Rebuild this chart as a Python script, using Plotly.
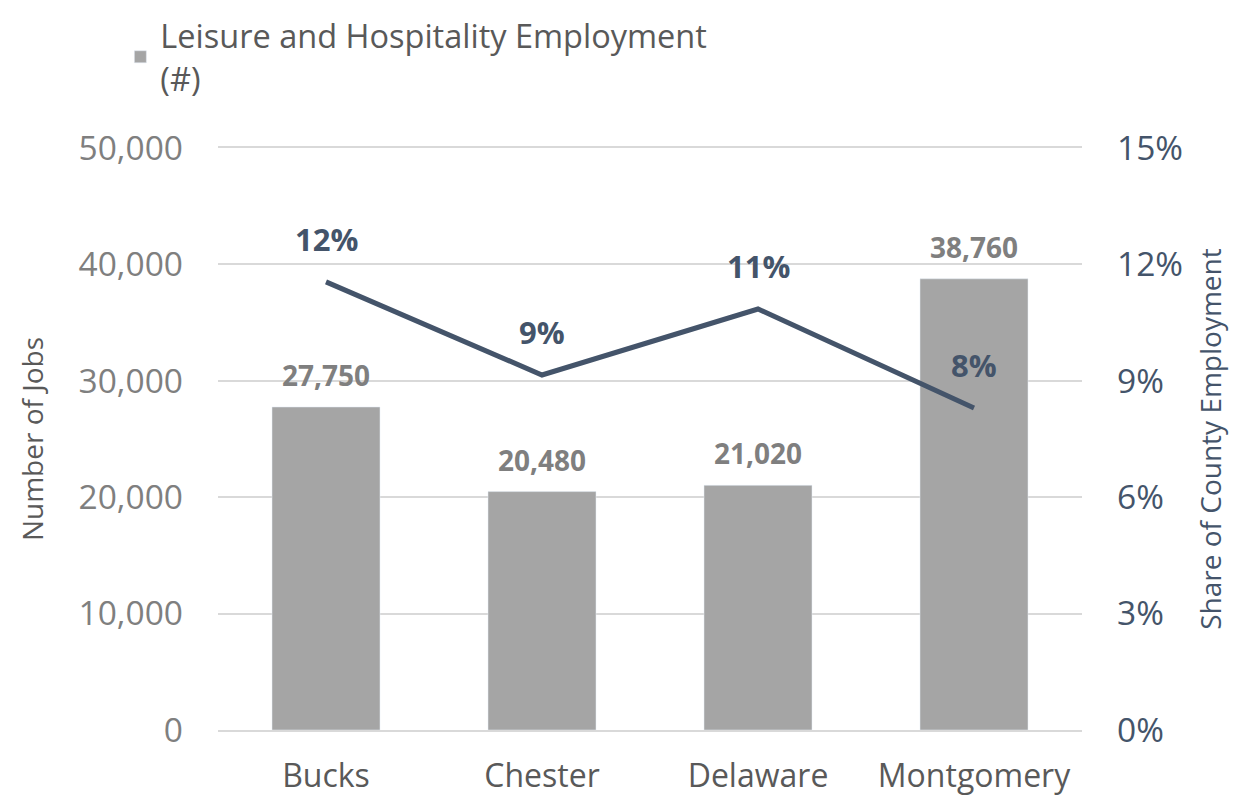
import plotly.graph_objects as go

counties = ["Bucks", "Chester", "Delaware", "Montgomery"]
jobs = [27750, 20480, 21020, 38760]
share = [11.55, 9.15, 10.85, 8.3]  # percent of county employment
share_labels = ["12%", "9%", "11%", "8%"]
left_ticks = [0, 10000, 20000, 30000, 40000, 50000]
right_ticks = [0, 3, 6, 9, 12, 15]

BAR = "#A5A5A5"
LINE = "#44546A"
GRID = "#D9D9D9"
FONT = "Open Sans"

fig = go.Figure()
fig.add_trace(go.Bar(
    x=counties, y=jobs, name="Leisure and Hospitality Employment<br>(#)",
    marker_color=BAR, width=0.5, showlegend=True,
))
fig.add_trace(go.Scatter(
    x=counties, y=share, yaxis="y2", mode="lines", showlegend=False,
    line=dict(color=LINE, width=5),
))

annotations = []
for c, v in zip(counties, jobs):
    annotations.append(dict(x=c, y=v, xref="x", yref="y", text=f"<b>{v:,}</b>",
                            showarrow=False, yanchor="bottom", yshift=11,
                            font=dict(family=FONT, size=28, color="#7F7F7F")))
for c, v, t in zip(counties, share, share_labels):
    annotations.append(dict(x=c, y=v, xref="x", yref="y2", text=f"<b>{t}</b>",
                            showarrow=False, yanchor="bottom", yshift=20,
                            font=dict(family=FONT, size=31, color=LINE)))

# page body adds an 8px offset, so the figure is sized to the visible area
fig.update_layout(
    width=1237, height=789,
    margin=dict(l=210, r=163, t=140, b=67, autoexpand=False),
    paper_bgcolor="white", plot_bgcolor="white",
    font=dict(family=FONT),
    annotations=annotations,
    legend=dict(x=-0.113, xanchor="left", xref="paper",
                y=1.0, yanchor="top", yref="container",
                font=dict(family=FONT, size=32.5, color="#595959"),
                bgcolor="rgba(0,0,0,0)", itemwidth=30),
    xaxis=dict(showgrid=False, showline=True, mirror=True, linecolor=GRID,
               linewidth=2, ticks="", automargin=False,
               tickfont=dict(family=FONT, size=32, color="#595959"),
               ticklabelstandoff=17),
    yaxis=dict(range=[0, 50000], tickvals=left_ticks,
               ticktext=[f"{v:,}" for v in left_ticks],
               showgrid=True, gridcolor=GRID, gridwidth=2,
               zeroline=False, showline=False, ticks="", automargin=False,
               tickfont=dict(family=FONT, size=33.5, color="#7F7F7F"),
               ticklabelstandoff=34,
               title=dict(text="Number of Jobs", standoff=26,
                          font=dict(family=FONT, size=28, color="#595959"))),
    yaxis2=dict(range=[0, 15], tickvals=right_ticks,
                ticktext=[f"{v}%" for v in right_ticks],
                overlaying="y", side="right", showgrid=False,
                zeroline=False, showline=False, ticks="", automargin=False,
                tickfont=dict(family=FONT, size=33.5, color=LINE),
                ticklabelstandoff=34,
                title=dict(text="Share of County Employment", standoff=19,
                           font=dict(family=FONT, size=28, color=LINE))),
)

fig.write_html("out.html")
